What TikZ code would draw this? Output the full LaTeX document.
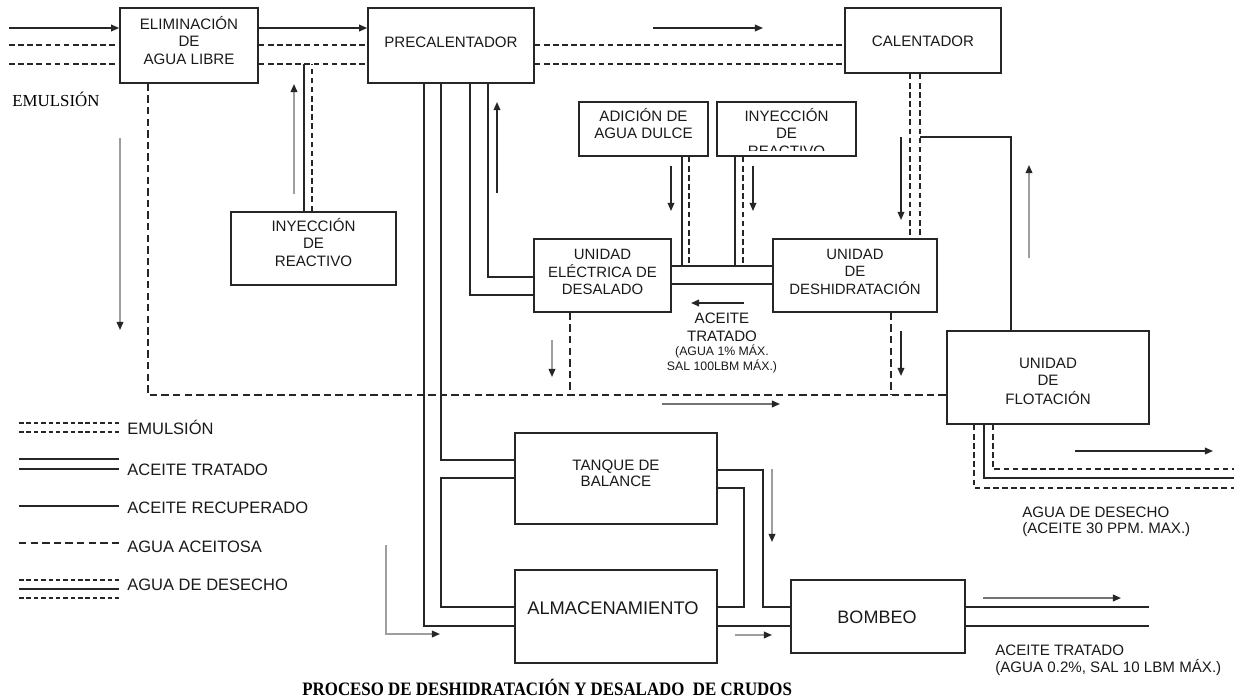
\documentclass[tikz,border=0pt]{standalone}
\usepackage{fontspec}
\setmainfont{Liberation Sans}
\newfontfamily\serifface{Liberation Serif}
\usetikzlibrary{arrows.meta}

% centred multi-line text whose baseline is the first line
\newcommand\stacklines[1]{\begin{tabular}[t]{@{}c@{}}#1\end{tabular}}

\begin{document}
\begin{tikzpicture}[x=0.02cm,y=-0.02cm,
  box/.style={draw=black!85,line width=0.9pt,rectangle,inner sep=0pt},
  lbl/.style={anchor=base,inner sep=0pt,text=black!90,font=\fontsize{8.6}{10.2}\selectfont},
  leg/.style={anchor=base west,inner sep=0pt,text=black!90,font=\fontsize{9.4}{11}\selectfont},
  note/.style={anchor=base west,inner sep=0pt,text=black!90,font=\fontsize{8.6}{10}\selectfont},
  pipe/.style={draw=black!85,line width=0.75pt},
  emul/.style={pipe,dash pattern=on 3.2pt off 2pt},
  oily/.style={pipe,dash pattern=on 4.2pt off 2.4pt},
  dark/.style={draw=black!85,line width=0.8pt,-{Triangle[length=4.6pt,width=3.8pt]}},
  light/.style={draw=black!38,line width=0.9pt,-{Triangle[length=4.6pt,width=3.8pt,color=black!85]}},
]
\useasboundingbox (0,0) rectangle (1248,700);

% ---------- units ----------
\node[box,minimum width=2.76cm,minimum height=1.5cm]  (elim)  at (189,45.5) {};
\node[box,minimum width=3.32cm,minimum height=1.5cm]  (prec)  at (451,45.5) {};
\node[box,minimum width=3.12cm,minimum height=1.3cm]  (calen) at (923,40.5) {};
\node[box,minimum width=2.58cm,minimum height=1.08cm] (adic)  at (643.5,129) {};
\node[box,minimum width=2.78cm,minimum height=1.08cm] (iny2)  at (786.5,129) {};
\node[box,minimum width=3.3cm,minimum height=1.46cm]  (iny1)  at (313.5,248.5) {};
\node[box,minimum width=2.74cm,minimum height=1.46cm] (elec)  at (602.5,275.5) {};
\node[box,minimum width=3.28cm,minimum height=1.46cm] (desh)  at (855,275.5) {};
\node[box,minimum width=4.04cm,minimum height=1.86cm] (flot)  at (1048,377.5) {};
\node[box,minimum width=4.04cm,minimum height=1.82cm] (tanq)  at (616,478.5) {};
\node[box,minimum width=4.04cm,minimum height=1.86cm] (alma)  at (616,616.5) {};
\node[box,minimum width=3.48cm,minimum height=1.46cm] (bomb)  at (878,616.5) {};

% ---------- unit labels ----------
\node[lbl] (elim-t)  at (189,29)    {\stacklines{ELIMINACIÓN\\DE\\AGUA LIBRE}};
\node[lbl] (prec-t)  at (451,47)    {PRECALENTADOR};
\node[lbl] (calen-t) at (923,46)    {CALENTADOR};
\node[lbl] (adic-t)  at (643.5,121) {\stacklines{ADICIÓN DE\\AGUA DULCE}};
\begin{scope}
  \clip (iny2.north west) rectangle (856,150.5);
  \node[lbl] (iny2-t) at (786.5,121) {\stacklines{INYECCIÓN\\DE\\REACTIVO}};
\end{scope}
\node[lbl] (iny1-t)  at (313.5,231) {\stacklines{INYECCIÓN\\DE\\REACTIVO}};
\node[lbl,font=\fontsize{8.5}{9.9}\selectfont] (elec-t) at (602.5,259) {\stacklines{UNIDAD\\ELÉCTRICA DE\\DESALADO}};
\node[lbl,font=\fontsize{8.5}{9.9}\selectfont] (desh-t) at (855,259)   {\stacklines{UNIDAD\\DE\\DESHIDRATACIÓN}};
\node[lbl] (flot-t)  at (1048,368)  {\stacklines{UNIDAD\\DE\\FLOTACIÓN}};
\node[lbl,font=\fontsize{8.6}{9.6}\selectfont] (tanq-t) at (616,470) {\stacklines{TANQUE DE\\BALANCE}};
\node[lbl,font=\fontsize{10.4}{12}\selectfont] (alma-t) at (613,614.5) {ALMACENAMIENTO};
\node[lbl,font=\fontsize{10.25}{12}\selectfont] (bomb-t) at (877,623.5) {BOMBEO};

% ---------- emulsion inlet ----------
\coordinate (inA) at (9,28);
\coordinate (inB) at (9,45);
\coordinate (inC) at (9,64);
\draw[dark] (inA) -- (elim.west |- inA);
\draw[emul] (inB) -- (elim.west |- inB);
\draw[emul] (inC) -- (elim.west |- inC);
\draw[dark] (elim.east |- inA) -- (prec.west |- inA);
\draw[emul] (elim.east |- inB) -- (prec.west |- inB);
\draw[emul] (elim.east |- inC) -- (prec.west |- inC);
\draw[emul] (prec.east |- inB) -- (calen.west |- inB);
\draw[emul] (prec.east |- inC) -- (calen.west |- inC);

% reagent injected into the emulsion line
\coordinate (jr1) at (304,64);
\coordinate (jr2) at (312,64);
\draw[pipe] (iny1.north -| jr1) -- (jr1);
\draw[emul] (iny1.north -| jr2) -- (jr2);

% ---------- oily water collector ----------
\coordinate (ow) at (148,395);
\draw[oily] (elim.south -| ow) -- (ow) -- (flot.west |- ow);
\draw[oily] (elec.south -| 570,0) -- (570,395);
\draw[oily] (desh.south -| 891,0) -- (891,395);

% ---------- preheater outlets ----------
\draw[pipe] (prec.south -| 488,0) -- (488,277) -- (elec.west |- 0,277);
\draw[pipe] (prec.south -| 470,0) -- (470,295) -- (elec.west |- 0,295);
\draw[pipe] (prec.south -| 441,0) -- (441,460) -- (tanq.west |- 0,460);
\draw[pipe] (prec.south -| 424,0) -- (424,626) -- (alma.west |- 0,626);

% ---------- balance tank / storage / pumping ----------
\draw[pipe] (tanq.west |- 0,478) -- (441,478) -- (441,607) -- (alma.west |- 0,607);
\draw[pipe] (tanq.east |- 0,470) -- (763,470) -- (763,607) -- (bomb.west |- 0,607);
\draw[pipe] (tanq.east |- 0,488) -- (744,488) -- (744,607) -- (alma.east |- 0,607);
\draw[pipe] (alma.east |- 0,626) -- (bomb.west |- 0,626);
\coordinate (outA) at (1149,607);
\coordinate (outB) at (1149,626);
\draw[pipe] (bomb.east |- outA) -- (outA);
\draw[pipe] (bomb.east |- outB) -- (outB);

% ---------- fresh water and reagent to the desalter ----------
\draw[pipe] (adic.south -| 682,0) -- (682,266);
\draw[emul] (adic.south -| 689,0) -- (689,266);
\draw[pipe] (iny2.south -| 735,0) -- (735,266);
\draw[emul] (iny2.south -| 743,0) -- (743,266);
\draw[pipe] (elec.east |- 0,266) -- (desh.west |- 0,266);
\draw[pipe] (elec.east |- 0,284) -- (desh.west |- 0,284);

% ---------- heater ----------
\draw[emul] (calen.south -| 910,0) -- (desh.north -| 910,0);
\draw[emul] (calen.south -| 920,0) -- (desh.north -| 920,0);
\draw[pipe] (920,137) -- (1011,137) -- (flot.north -| 1011,0);

% ---------- flotation outlets ----------
\draw[emul] (flot.south -| 993,0) -- (993,469) -- (1234,469);
\draw[pipe] (flot.south -| 984,0) -- (984,478) -- (1234,478);
\draw[emul] (flot.south -| 974,0) -- (974,488) -- (1234,488);

% ---------- flow direction arrows ----------
\draw[light] (120,138) -- (120,330);
\draw[light] (294,194) -- (294,84);
\draw[light] (552,340) -- (552,377);
\draw[light] (386,545) -- (386,634) -- (440,634);
\draw[light] (772,469) -- (772,542);
\draw[light] (735,635) -- (772,635);
\draw[light,draw=black!55] (983,598) -- (1121,598);
\draw[light,draw=black!55] (662,404) -- (780,404);
\draw[light] (1029,258) -- (1029,165);
\draw[dark] (653,28) -- (763,28);
\draw[dark] (497,193) -- (497,102);
\draw[dark] (671,166) -- (671,211);
\draw[dark] (753,166) -- (753,211);
\draw[dark] (744,303) -- (691,303);
\draw[dark] (901,331) -- (901,376);
\draw[dark] (901,137) -- (901,220);
\draw[dark] (1075,451) -- (1213,451);

% ---------- stream labels ----------
\node[anchor=base west,inner sep=0pt,font=\serifface\fontsize{9.6}{11}\selectfont] (emul-t) at (12,106) {EMULSIÓN};
\node[lbl,font=\fontsize{8.6}{10.8}\selectfont] (mid-t) at (722,323) {\stacklines{ACEITE\\TRATADO}};
\node[lbl,font=\fontsize{7}{8.5}\selectfont] (mid-s) at (722,355) {\stacklines{(AGUA 1\% MÁX.\\SAL 100LBM MÁX.)}};
\node[note] (out-t1) at (995,655) {ACEITE TRATADO};
\node[note] (out-t2) at (995,672) {(AGUA 0.2\%, SAL 10 LBM MÁX.)};
\node[note] (ww-t1) at (1022,517) {AGUA DE DESECHO};
\node[note] (ww-t2) at (1022,533) {(ACEITE 30 PPM. MAX.)};

% ---------- legend ----------
\draw[emul,dash pattern=on 2.6pt off 1.6pt] (19,423) -- (119,423);
\draw[emul,dash pattern=on 2.6pt off 1.6pt] (19,432) -- (119,432);
\draw[pipe] (19,459) -- (119,459);
\draw[pipe] (19,469) -- (119,469);
\draw[pipe] (19,506) -- (119,506);
\draw[oily] (19,543) -- (119,543);
\draw[emul,dash pattern=on 2.6pt off 1.6pt] (19,580) -- (119,580);
\draw[pipe] (19,589) -- (119,589);
\draw[emul,dash pattern=on 2.6pt off 1.6pt] (19,598) -- (119,598);
\node[leg] (leg1) at (127,434) {EMULSIÓN};
\node[leg] (leg2) at (127,475) {ACEITE TRATADO};
\node[leg] (leg3) at (127,513) {ACEITE RECUPERADO};
\node[leg] (leg4) at (127,552) {AGUA ACEITOSA};
\node[leg] (leg5) at (127,590) {AGUA DE DESECHO};

% ---------- title ----------
\node[anchor=base west,inner sep=0pt,font=\serifface\bfseries\fontsize{10.8}{12}\selectfont] (title) at (302,695)
  {\scalebox{0.89}[1]{PROCESO DE DESHIDRATACIÓN Y DESALADO\ \ DE CRUDOS}};
\end{tikzpicture}
\end{document}
